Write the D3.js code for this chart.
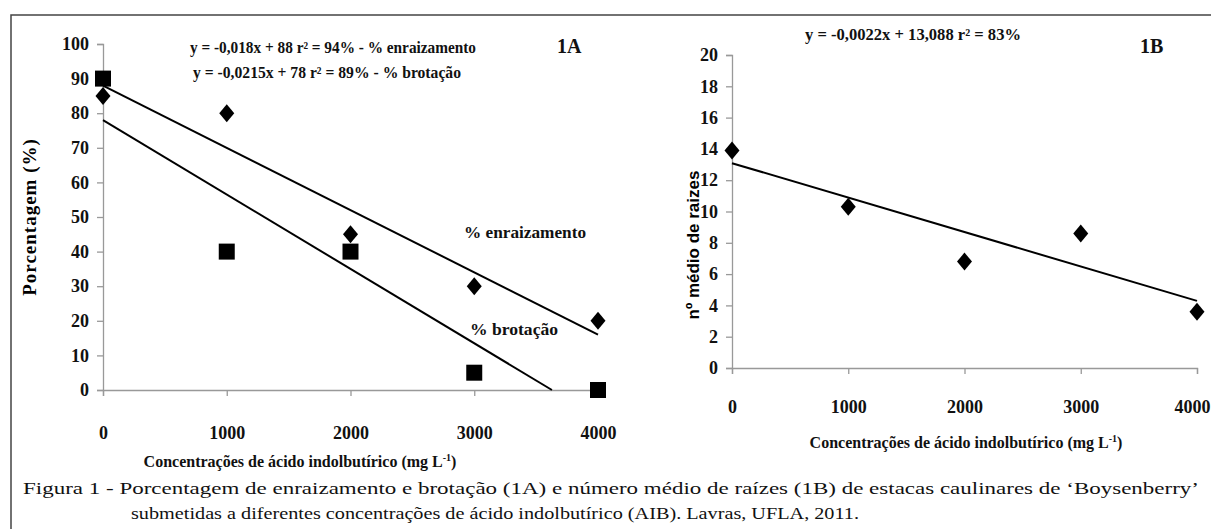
<!DOCTYPE html>
<html>
<head>
<meta charset="utf-8">
<script src="https://cdn.jsdelivr.net/npm/d3@7"></script>
<style>
body{margin:0;background:#fff;}
svg{display:block;}
</style>
</head>
<body>
<div id="chart"></div>
<script>
// data
const concentracoes = [0, 1000, 2000, 3000, 4000];
const enraizamento = [85, 80, 45, 30, 20];
const brotacao = [90, 40, 40, 5, 0];
const raizes = [13.9, 10.3, 6.8, 8.6, 3.6];
const ticksA = [0, 10, 20, 30, 40, 50, 60, 70, 80, 90, 100];
const ticksB = [0, 2, 4, 6, 8, 10, 12, 14, 16, 18, 20];
// regression equations printed on the panels
const retaEnraiz = [-0.018, 88];
const retaBrot = [-0.0215, 78];
const retaRaizes = [-0.0022, 13.088];

const SERIF = '"Liberation Serif", "Times New Roman", serif';
const W = 1211, H = 529;
const svg = d3.select('#chart').append('svg')
	.attr('width', W)
	.attr('height', H);

//outer frame
svg.append('rect')
	.attr('x', 11).attr('y', 15)
	.attr('width', 1240).attr('height', 560)
	.attr('fill', 'none')
	.attr('stroke', '#444')
	.attr('stroke-width', 1.5);

function label(t, x, y, size, len, anchor){
	const el = svg.append('text')
		.attr('x', x).attr('y', y)
		.style('font-family', SERIF)
		.attr('font-weight', 'bold')
		.attr('font-size', size)
		.attr('fill', '#111')
		.attr('text-anchor', anchor || 'start')
		.text(t);
	if(len) el.attr('textLength', len).attr('lengthAdjust', 'spacingAndGlyphs');
	return el;
}

function panel(opts){
	const g = svg.append('g');
	const x = d3.scaleLinear().domain([0, 4000]).range(opts.xr);
	const y = d3.scaleLinear().domain(opts.yd).range(opts.yr);

	//axes
	g.append('g')
		.attr('transform', `translate(${opts.xr[0]},0)`)
		.call(d3.axisLeft(y).tickValues(opts.yticks).tickFormat(d3.format('d')).tickSize(6).tickPadding(8));
	const ax = g.append('g')
		.attr('transform', `translate(0,${opts.yr[0]})`)
		.call(d3.axisBottom(x).tickValues(concentracoes).tickFormat(d3.format('d')).tickSize(6).tickPadding(opts.xpad));
	g.selectAll('.tick text')
		.style('font-family', SERIF)
		.style('font-weight', 'bold')
		.style('font-size', '18px')
		.attr('fill', '#111');
	if(opts.lastShift) ax.selectAll('.tick:last-of-type text').attr('dx', opts.lastShift);
	g.selectAll('.domain, .tick line').attr('stroke', '#999').attr('stroke-width', 1.3);

	//trend lines
	opts.lines.forEach(r => {
		let x1 = 4000;
		if(r[0] * 4000 + r[1] < 0) x1 = -r[1] / r[0];
		g.append('line')
			.attr('x1', x(0)).attr('y1', y(r[1]))
			.attr('x2', x(x1)).attr('y2', y(r[0] * x1 + r[1]))
			.attr('stroke', '#000')
			.attr('stroke-width', 2);
	});

	//points
	opts.series.forEach(s => {
		g.append('g').selectAll('path')
			.data(s.values)
			.join('path')
			.attr('fill', '#000')
			.attr('d', s.shape === 'square' ? 'M-8,-8h16v16h-16z' : 'M0,-9L7.5,0L0,9L-7.5,0Z')
			.attr('transform', (d, i) => `translate(${x(concentracoes[i])},${y(d)})`);
	});

	//x title with superscript
	g.append('text')
		.attr('x', opts.xtitle[0]).attr('y', opts.xtitle[1])
		.attr('text-anchor', 'middle')
		.style('font-family', SERIF)
		.attr('font-weight', 'bold')
		.attr('font-size', 16)
		.attr('fill', '#111')
		.html('Concentrações de ácido indolbutírico (mg L<tspan dy="-6" font-size="10">-1</tspan><tspan dy="6">)</tspan>');
	return {g, x, y};
}

panel({
	xr: [103, 598], yr: [390, 44], yd: [0, 100],
	yticks: ticksA, xpad: 30,
	lines: [retaEnraiz, retaBrot],
	series: [{values: enraizamento, shape: 'diamond'}, {values: brotacao, shape: 'square'}],
	xtitle: [300, 467]
});

panel({
	xr: [732, 1197], yr: [368, 55], yd: [0, 20],
	yticks: ticksB, xpad: 26, lastShift: -5,
	lines: [retaRaizes],
	series: [{values: raizes, shape: 'diamond'}],
	xtitle: [966, 448]
});

label('y = -0,018x + 88  r² = 94% - % enraizamento', 190, 53, 16, 286);
label('y = -0,0215x + 78  r² = 89% - % brotação', 193, 78, 16, 268);
label('1A', 557, 53, 20);
label('% enraizamento', 464, 238, 16, 122);
label('% brotação', 470, 335, 16, 88);
label('y = -0,0022x + 13,088  r² = 83%', 805, 40, 16, 216);
label('1B', 1140, 53, 20);

svg.append('text')
	.attr('transform', 'translate(36,217) rotate(-90)')
	.attr('text-anchor', 'middle')
	.style('font-family', SERIF)
	.attr('font-weight', 'bold')
	.attr('font-size', 19)
	.attr('letter-spacing', 1)
	.text('Porcentagem (%)');

svg.append('text')
	.attr('transform', 'translate(699,245) rotate(-90)')
	.attr('text-anchor', 'middle')
	.style('font-family', '"Liberation Sans", Arial, sans-serif')
	.attr('font-weight', 'bold')
	.attr('font-size', 17)
	.text('nº médio de raizes');

//caption
const cap = svg.append('g')
	.style('font-family', SERIF)
	.attr('font-size', 17)
	.attr('fill', '#111');
cap.append('text')
	.attr('x', 23).attr('y', 494)
	.attr('textLength', 1176)
	.attr('lengthAdjust', 'spacingAndGlyphs')
	.text('Figura 1 - Porcentagem de enraizamento e brotação (1A) e número médio de raízes (1B) de estacas caulinares de ‘Boysenberry’');
cap.append('text')
	.attr('x', 131).attr('y', 519)
	.attr('textLength', 728)
	.attr('lengthAdjust', 'spacingAndGlyphs')
	.text('submetidas a diferentes concentrações de ácido indolbutírico (AIB). Lavras, UFLA, 2011.');
</script>
</body>
</html>
